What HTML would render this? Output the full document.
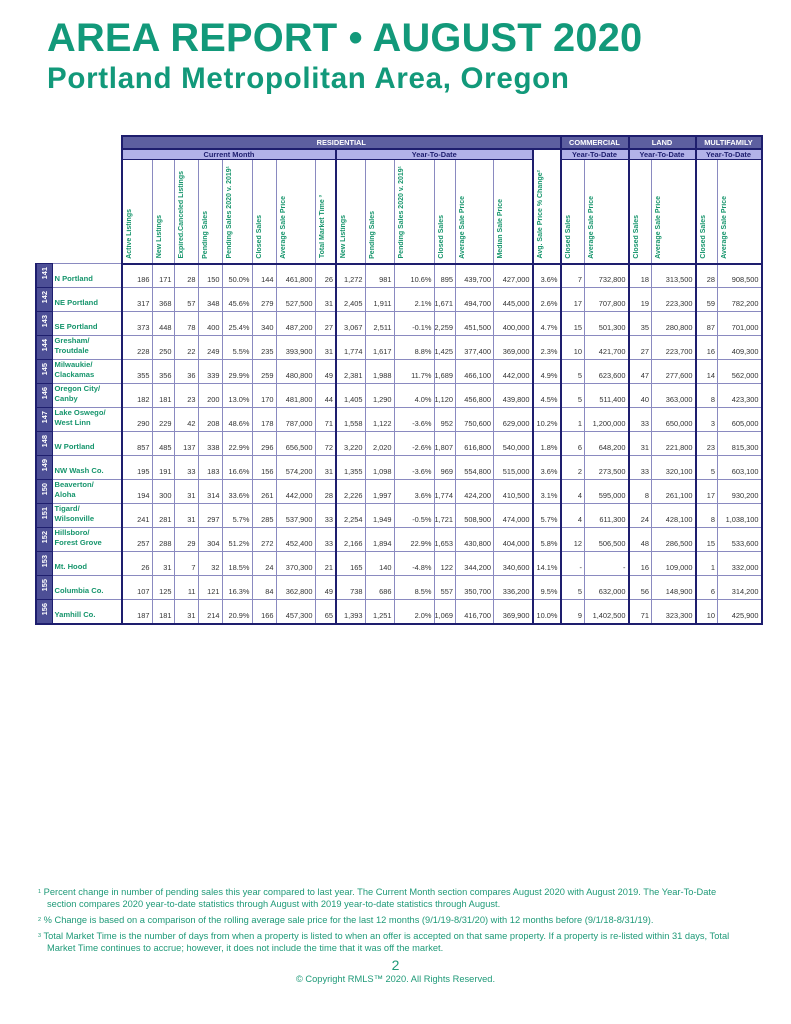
<!DOCTYPE html>
<html><head><meta charset="utf-8">
<style>
*{margin:0;padding:0;box-sizing:border-box}
body{width:791px;height:1024px;background:#fff;position:relative;font-family:"Liberation Sans",Arial,sans-serif;overflow:hidden}
.t1{position:absolute;left:47px;top:16px;font-size:39.8px;font-weight:bold;color:#12997a;white-space:nowrap;letter-spacing:0.2px}
.t2{position:absolute;left:47px;top:62px;font-size:29.5px;font-weight:bold;color:#12997a;white-space:nowrap;letter-spacing:0.7px}
table{position:absolute;left:35px;top:135px;border-collapse:collapse;table-layout:fixed}
td{border:1px solid #8a8ac0;font-size:7.4px;color:#333;text-align:right;vertical-align:bottom;padding:0 2px 3px 0;white-space:nowrap;overflow:hidden}
td.e{border:none}
.h1 td.s{background:#5d5fa0;color:#fff;font-weight:bold;text-align:center;vertical-align:middle;padding:0;border:2px solid #1e1e6e;font-size:7.4px}
.h2 td.s{background:#b2b2e8;color:#1e1e6e;font-weight:bold;text-align:center;vertical-align:middle;padding:0;border:1px solid #1e1e6e;border-left:2px solid #1e1e6e;border-right:2px solid #1e1e6e;font-size:7.4px}
.h3 td{padding:0 0 2px 0;text-align:left;vertical-align:bottom;border-bottom:2px solid #1e1e6e}
.r{writing-mode:vertical-rl;transform:rotate(180deg);color:#16956c;font-weight:bold;font-size:7px;display:inline-block;margin-left:3px}
td.id{background:#4d4f96;border:1px solid #1e1e6e;border-left:2px solid #1e1e6e;padding:0;text-align:center;vertical-align:top}
td.id span{writing-mode:vertical-rl;transform:rotate(180deg);color:#fff;font-weight:bold;font-size:7.4px;display:inline-block;margin-top:3px}
td.n{color:#16956c;font-weight:bold;text-align:left;padding-left:2px;border-right:2px solid #1e1e6e;line-height:10px;font-size:7.6px}
.L{border-left:2px solid #1e1e6e!important}
.last td{border-bottom:2px solid #1e1e6e}
.Rb{border-right:2px solid #1e1e6e!important}
.fn{position:absolute;left:38px;font-size:9.3px;color:#1f9a78;line-height:12px;width:702px}
.fn sup{font-size:5.5px;vertical-align:top}
.fn div{padding-left:9px;text-indent:-9px}
</style></head><body>
<div class="t1">AREA REPORT • AUGUST 2020</div>
<div class="t2">Portland Metropolitan Area, Oregon</div>
<table>
<colgroup><col style="width:16px"><col style="width:70px">
<col style="width:30px"><col style="width:22px"><col style="width:24px"><col style="width:24px"><col style="width:30px"><col style="width:24px"><col style="width:39px"><col style="width:21px">
<col style="width:29px"><col style="width:29px"><col style="width:40px"><col style="width:20px"><col style="width:38px"><col style="width:39px"><col style="width:28px">
<col style="width:24px"><col style="width:44px"><col style="width:23px"><col style="width:44px"><col style="width:22px"><col style="width:44px"></colgroup>
<tr class="h1" style="height:13px"><td class="e" colspan="2"></td><td class="s" colspan="15">RESIDENTIAL</td><td class="s" colspan="2">COMMERCIAL</td><td class="s" colspan="2">LAND</td><td class="s" colspan="2">MULTIFAMILY</td></tr>
<tr class="h2" style="height:10px"><td class="e" colspan="2"></td><td class="s" colspan="8">Current Month</td><td class="s" colspan="6">Year-To-Date</td><td rowspan="2" style="padding:0 0 2px 0;text-align:left;border-bottom:2px solid #1e1e6e;border-right:2px solid #1e1e6e"><span class="r">Avg. Sale Price % Change²</span></td><td class="s" colspan="2">Year-To-Date</td><td class="s" colspan="2">Year-To-Date</td><td class="s" colspan="2">Year-To-Date</td></tr>
<tr class="h3" style="height:104px"><td class="e" colspan="2" style="border:none"></td>
<td class="L"><span class="r">Active Listings</span></td><td><span class="r">New Listings</span></td><td><span class="r">Expired.Canceled Listings</span></td><td><span class="r">Pending Sales</span></td><td><span class="r">Pending Sales 2020 v. 2019¹</span></td><td><span class="r">Closed Sales</span></td><td><span class="r">Average Sale Price</span></td><td><span class="r">Total Market Time ³</span></td>
<td class="L"><span class="r">New Listings</span></td><td><span class="r">Pending Sales</span></td><td><span class="r">Pending Sales 2020 v. 2019¹</span></td><td><span class="r">Closed Sales</span></td><td><span class="r">Average Sale Price</span></td><td class="Rb"><span class="r">Median Sale Price</span></td>
<td class="L"><span class="r">Closed Sales</span></td><td class="Rb"><span class="r">Average Sale Price</span></td><td><span class="r">Closed Sales</span></td><td class="Rb"><span class="r">Average Sale Price</span></td><td><span class="r">Closed Sales</span></td><td class="Rb"><span class="r">Average Sale Price</span></td></tr>

<tr style="height:24px"><td class="id"><span>141</span></td><td class="n">N Portland</td><td>186</td><td>171</td><td>28</td><td>150</td><td>50.0%</td><td>144</td><td>461,800</td><td>26</td><td class="L">1,272</td><td>981</td><td>10.6%</td><td>895</td><td>439,700</td><td>427,000</td><td class="Rb L">3.6%</td><td>7</td><td class="Rb">732,800</td><td>18</td><td class="Rb">313,500</td><td>28</td><td class="Rb">908,500</td></tr>
<tr style="height:24px"><td class="id"><span>142</span></td><td class="n">NE Portland</td><td>317</td><td>368</td><td>57</td><td>348</td><td>45.6%</td><td>279</td><td>527,500</td><td>31</td><td class="L">2,405</td><td>1,911</td><td>2.1%</td><td>1,671</td><td>494,700</td><td>445,000</td><td class="Rb L">2.6%</td><td>17</td><td class="Rb">707,800</td><td>19</td><td class="Rb">223,300</td><td>59</td><td class="Rb">782,200</td></tr>
<tr style="height:24px"><td class="id"><span>143</span></td><td class="n">SE Portland</td><td>373</td><td>448</td><td>78</td><td>400</td><td>25.4%</td><td>340</td><td>487,200</td><td>27</td><td class="L">3,067</td><td>2,511</td><td>-0.1%</td><td>2,259</td><td>451,500</td><td>400,000</td><td class="Rb L">4.7%</td><td>15</td><td class="Rb">501,300</td><td>35</td><td class="Rb">280,800</td><td>87</td><td class="Rb">701,000</td></tr>
<tr style="height:24px"><td class="id"><span>144</span></td><td class="n">Gresham/<br>Troutdale</td><td>228</td><td>250</td><td>22</td><td>249</td><td>5.5%</td><td>235</td><td>393,900</td><td>31</td><td class="L">1,774</td><td>1,617</td><td>8.8%</td><td>1,425</td><td>377,400</td><td>369,000</td><td class="Rb L">2.3%</td><td>10</td><td class="Rb">421,700</td><td>27</td><td class="Rb">223,700</td><td>16</td><td class="Rb">409,300</td></tr>
<tr style="height:24px"><td class="id"><span>145</span></td><td class="n">Milwaukie/<br>Clackamas</td><td>355</td><td>356</td><td>36</td><td>339</td><td>29.9%</td><td>259</td><td>480,800</td><td>49</td><td class="L">2,381</td><td>1,988</td><td>11.7%</td><td>1,689</td><td>466,100</td><td>442,000</td><td class="Rb L">4.9%</td><td>5</td><td class="Rb">623,600</td><td>47</td><td class="Rb">277,600</td><td>14</td><td class="Rb">562,000</td></tr>
<tr style="height:24px"><td class="id"><span>146</span></td><td class="n">Oregon City/<br>Canby</td><td>182</td><td>181</td><td>23</td><td>200</td><td>13.0%</td><td>170</td><td>481,800</td><td>44</td><td class="L">1,405</td><td>1,290</td><td>4.0%</td><td>1,120</td><td>456,800</td><td>439,800</td><td class="Rb L">4.5%</td><td>5</td><td class="Rb">511,400</td><td>40</td><td class="Rb">363,000</td><td>8</td><td class="Rb">423,300</td></tr>
<tr style="height:24px"><td class="id"><span>147</span></td><td class="n">Lake Oswego/<br>West Linn</td><td>290</td><td>229</td><td>42</td><td>208</td><td>48.6%</td><td>178</td><td>787,000</td><td>71</td><td class="L">1,558</td><td>1,122</td><td>-3.6%</td><td>952</td><td>750,600</td><td>629,000</td><td class="Rb L">10.2%</td><td>1</td><td class="Rb">1,200,000</td><td>33</td><td class="Rb">650,000</td><td>3</td><td class="Rb">605,000</td></tr>
<tr style="height:24px"><td class="id"><span>148</span></td><td class="n">W Portland</td><td>857</td><td>485</td><td>137</td><td>338</td><td>22.9%</td><td>296</td><td>656,500</td><td>72</td><td class="L">3,220</td><td>2,020</td><td>-2.6%</td><td>1,807</td><td>616,800</td><td>540,000</td><td class="Rb L">1.8%</td><td>6</td><td class="Rb">648,200</td><td>31</td><td class="Rb">221,800</td><td>23</td><td class="Rb">815,300</td></tr>
<tr style="height:24px"><td class="id"><span>149</span></td><td class="n">NW Wash Co.</td><td>195</td><td>191</td><td>33</td><td>183</td><td>16.6%</td><td>156</td><td>574,200</td><td>31</td><td class="L">1,355</td><td>1,098</td><td>-3.6%</td><td>969</td><td>554,800</td><td>515,000</td><td class="Rb L">3.6%</td><td>2</td><td class="Rb">273,500</td><td>33</td><td class="Rb">320,100</td><td>5</td><td class="Rb">603,100</td></tr>
<tr style="height:24px"><td class="id"><span>150</span></td><td class="n">Beaverton/<br>Aloha</td><td>194</td><td>300</td><td>31</td><td>314</td><td>33.6%</td><td>261</td><td>442,000</td><td>28</td><td class="L">2,226</td><td>1,997</td><td>3.6%</td><td>1,774</td><td>424,200</td><td>410,500</td><td class="Rb L">3.1%</td><td>4</td><td class="Rb">595,000</td><td>8</td><td class="Rb">261,100</td><td>17</td><td class="Rb">930,200</td></tr>
<tr style="height:24px"><td class="id"><span>151</span></td><td class="n">Tigard/<br>Wilsonville</td><td>241</td><td>281</td><td>31</td><td>297</td><td>5.7%</td><td>285</td><td>537,900</td><td>33</td><td class="L">2,254</td><td>1,949</td><td>-0.5%</td><td>1,721</td><td>508,900</td><td>474,000</td><td class="Rb L">5.7%</td><td>4</td><td class="Rb">611,300</td><td>24</td><td class="Rb">428,100</td><td>8</td><td class="Rb">1,038,100</td></tr>
<tr style="height:24px"><td class="id"><span>152</span></td><td class="n">Hillsboro/<br>Forest Grove</td><td>257</td><td>288</td><td>29</td><td>304</td><td>51.2%</td><td>272</td><td>452,400</td><td>33</td><td class="L">2,166</td><td>1,894</td><td>22.9%</td><td>1,653</td><td>430,800</td><td>404,000</td><td class="Rb L">5.8%</td><td>12</td><td class="Rb">506,500</td><td>48</td><td class="Rb">286,500</td><td>15</td><td class="Rb">533,600</td></tr>
<tr style="height:24px"><td class="id"><span>153</span></td><td class="n">Mt. Hood</td><td>26</td><td>31</td><td>7</td><td>32</td><td>18.5%</td><td>24</td><td>370,300</td><td>21</td><td class="L">165</td><td>140</td><td>-4.8%</td><td>122</td><td>344,200</td><td>340,600</td><td class="Rb L">14.1%</td><td>-</td><td class="Rb">-</td><td>16</td><td class="Rb">109,000</td><td>1</td><td class="Rb">332,000</td></tr>
<tr style="height:24px"><td class="id"><span>155</span></td><td class="n">Columbia Co.</td><td>107</td><td>125</td><td>11</td><td>121</td><td>16.3%</td><td>84</td><td>362,800</td><td>49</td><td class="L">738</td><td>686</td><td>8.5%</td><td>557</td><td>350,700</td><td>336,200</td><td class="Rb L">9.5%</td><td>5</td><td class="Rb">632,000</td><td>56</td><td class="Rb">148,900</td><td>6</td><td class="Rb">314,200</td></tr>
<tr class="last" style="height:24px"><td class="id"><span>156</span></td><td class="n">Yamhill Co.</td><td>187</td><td>181</td><td>31</td><td>214</td><td>20.9%</td><td>166</td><td>457,300</td><td>65</td><td class="L">1,393</td><td>1,251</td><td>2.0%</td><td>1,069</td><td>416,700</td><td>369,900</td><td class="Rb L">10.0%</td><td>9</td><td class="Rb">1,402,500</td><td>71</td><td class="Rb">323,300</td><td>10</td><td class="Rb">425,900</td></tr>
</table>

<div class="fn" style="top:886px">
<div style="margin-bottom:4px"><sup>1</sup> Percent change in number of pending sales this year compared to last year. The Current Month section compares August 2020 with August 2019. The Year-To-Date section compares 2020 year-to-date statistics through August with 2019 year-to-date statistics through August.</div>
<div style="margin-bottom:4px"><sup>2</sup> % Change is based on a comparison of the rolling average sale price for the last 12 months (9/1/19-8/31/20) with 12 months before (9/1/18-8/31/19).</div>
<div><sup>3</sup> Total Market Time is the number of days from when a property is listed to when an offer is accepted on that same property. If a property is re-listed within 31 days, Total Market Time continues to accrue; however, it does not include the time that it was off the market.</div>
</div>
<div style="position:absolute;left:0;width:791px;top:957px;text-align:center;font-size:14px;color:#1f9a78">2</div>
<div style="position:absolute;left:0;width:791px;top:974px;text-align:center;font-size:9.3px;color:#1f9a78">© Copyright RMLS™ 2020. All Rights Reserved.</div>
</body></html>
